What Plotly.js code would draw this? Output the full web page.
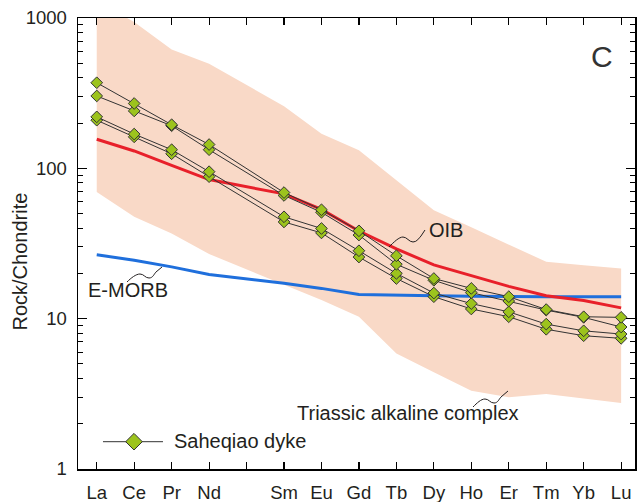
<!DOCTYPE html>
<html>
<head>
<meta charset="utf-8">
<script src="https://cdn.plot.ly/plotly-3.0.1.min.js"></script>
<style>html,body{margin:0;padding:0;background:#fff;}#chart{width:640px;height:502px;}</style>
</head>
<body>
<div id="chart"></div>
<script>
// ---- data (chondrite-normalised REE) ----
const elements   = ['La','Ce','Pr','Nd','Pm','Sm','Eu','Gd','Tb','Dy','Ho','Er','Tm','Yb','Lu'];
const tickLabels = ['La','Ce','Pr','Nd','',  'Sm','Eu','Gd','Tb','Dy','Ho','Er','Tm','Yb','Lu'];

const sample1 = [371,270,195,144,null,69,53,38.4,26.2,18.5,15.9,14.0,11.5,10.3,10.2];
const sample2 = [303,241,192,133,null,66,51,36.0,23.0,18.0,14.9,13.1,11.4,10.2,8.8];
const sample3 = [220,169,133,95,null,47.6,39.8,28.3,20.0,14.8,12.6,11.1,9.2,8.3,7.9];
const sample4 = [209,162,125,88,null,44,37.2,25.7,18.5,14.0,11.6,10.3,8.5,7.7,7.4];

const oib   = [156,130.5,104.5,84.2,null,67.6,53.3,38.3,29.1,22.8,19.4,16.4,14.2,13.2,11.8];
const emorb = [26.6,24.5,22.1,19.7,null,17.2,15.9,14.5,14.3,14.2,14.1,14.0,14.0,14.0,14.0];

const bandUpper = [1300,940,617,497,null,259,170,132,83,52.6,40.5,31.1,23.9,22.7,21.6];
const bandLower = [69.7,47.6,36.8,26.9,null,16.8,13.3,10.3,5.87,4.4,3.31,3.0,3.15,2.93,2.75];

const sampleName = 'Saheqiao dyke';
const bandName = 'Triassic alkaline complex';

// ---- helpers ----
const xIdx = elements.map((e,i)=>i);
function keep(arr){ // drop null positions (Pm) for band polygon
  const xs=[], ys=[];
  arr.forEach((v,i)=>{ if(v!==null){ xs.push(i); ys.push(v);} });
  return {xs, ys};
}
const up = keep(bandUpper), lo = keep(bandLower);
const bandX = up.xs.concat(lo.xs.slice().reverse());
const bandY = up.ys.concat(lo.ys.slice().reverse());

const M = {l:78, r:5, t:18, b:33};
const W = 640, H = 502;
const PL = M.l, PR = W - M.r, PT = M.t, PB = H - M.b;
const px = x => ((x - PL) / (PR - PL)).toFixed(5);
const py = y => ((PB - y) / (PB - PT)).toFixed(5);
function path(cmds){ // cmds in pixels, converted to paper units
  return cmds.map(c => c[0] + c.slice(1).map((v,i)=> i%2===0 ? px(v) : py(v)).join(',')).join(' ');
}

const ink = '#231f20';
const green = '#9cc31d';

const sampleStyle = {
  mode:'lines+markers', connectgaps:true, showlegend:false, hoverinfo:'skip',
  line:{color:'#333333', width:1},
  marker:{symbol:'diamond', size:9, color:green, line:{color:'#333333', width:1}}
};

const traces = [
  {x:bandX, y:bandY, mode:'lines', fill:'toself', fillcolor:'#f9d9c7',
   line:{width:0, color:'rgba(0,0,0,0)'}, showlegend:false, hoverinfo:'skip'},
  {x:xIdx, y:emorb, mode:'lines', connectgaps:true, line:{color:'#1f6fdc', width:3}, showlegend:false},
  {x:xIdx, y:oib, mode:'lines', connectgaps:true, line:{color:'#e8202a', width:3}, showlegend:false},
  Object.assign({x:xIdx, y:sample4}, sampleStyle),
  Object.assign({x:xIdx, y:sample3}, sampleStyle),
  Object.assign({x:xIdx, y:sample2}, sampleStyle),
  Object.assign({x:xIdx, y:sample1}, sampleStyle)
];

const leaderStyle = {type:'path', xref:'paper', yref:'paper', line:{color:ink, width:1}};
const shapes = [
  Object.assign({path: path([['M',389,247],['C',394,242,399,237,403,237],['C',407,237,409,242,413,242],['C',417,242,419,238,421,236],['L',425,230]])}, leaderStyle),
  Object.assign({path: path([['M',127,282],['C',131,278,136,274,140,274],['C',144,274,145,278,149,278],['C',153,278,154,274,156,272],['L',162,267]])}, leaderStyle),
  Object.assign({path: path([['M',473,407],['C',477,403,481,399,485,399],['C',489,399,490,403,494,403],['C',498,403,499,399,501,397],['L',508,391]])}, leaderStyle),
  // legend glyph
  {type:'line', xref:'paper', yref:'paper', x0:px(103), x1:px(163), y0:py(441.7), y1:py(441.7), line:{color:'#333333', width:1}},
  {type:'path', xref:'paper', yref:'paper', path: path([['M',134,433.4],['L',142.3,441.7],['L',134,450],['L',125.7,441.7],['Z']]),
   fillcolor:green, line:{color:'#333333', width:1}}
];

const annFont = {family:'Liberation Sans, Arial, sans-serif', size:20, color:ink};
const annotations = [
  {xref:'paper', yref:'paper', x:px(446), y:py(230), text:'OIB', showarrow:false, xanchor:'center', yanchor:'middle', font:annFont},
  {xref:'paper', yref:'paper', x:px(127.5), y:py(290), text:'E-MORB', showarrow:false, xanchor:'center', yanchor:'middle', font:annFont},
  {xref:'paper', yref:'paper', x:px(408), y:py(413), text:bandName, showarrow:false, xanchor:'center', yanchor:'middle', font:annFont},
  {xref:'paper', yref:'paper', x:px(172), y:py(441), text:sampleName, showarrow:false, xanchor:'left', yanchor:'middle', font:annFont},
  {xref:'paper', yref:'paper', x:px(601.7), y:py(56), text:'C', showarrow:false, xanchor:'center', yanchor:'middle',
   font:{family:'Liberation Sans, Arial, sans-serif', size:30, color:'#333333'}},
  {xref:'paper', yref:'paper', x:px(20), y:py(261.5), text:'Rock/Chondrite', showarrow:false, textangle:-90,
   xanchor:'center', yanchor:'middle', font:{family:'Liberation Sans, Arial, sans-serif', size:20, color:ink}}
];

const layout = {
  width:W, height:H, margin:M,
  paper_bgcolor:'#ffffff', plot_bgcolor:'#ffffff',
  font:{family:'Liberation Sans, Arial, sans-serif', color:ink, size:18.5},
  showlegend:false,
  xaxis:{
    range:[-0.5, 14.37], tickmode:'array', tickvals:xIdx, ticktext:tickLabels,
    showgrid:false, zeroline:false, showline:true, linecolor:'#000', linewidth:1.5, mirror:'allticks',
    ticks:'inside', ticklen:7, tickwidth:1.2, tickcolor:'#000',
    tickfont:{size:18.5, color:ink}, ticklabelstandoff:6
  },
  yaxis:{
    type:'log', range:[0,3], tickmode:'array', tickvals:[1,10,100,1000], ticktext:['1','10','100','1000'],
    showgrid:false, zeroline:false, showline:true, linecolor:'#000', linewidth:1.5, mirror:'allticks',
    ticks:'inside', ticklen:9, tickwidth:1.2, tickcolor:'#000',
    minor:{ticks:'inside', ticklen:5, tickwidth:1, tickcolor:'#000', dtick:'D1', showgrid:false},
    tickfont:{size:18.5, color:ink}, ticklabelstandoff:6
  },
  shapes:shapes, annotations:annotations
};

Plotly.newPlot('chart', traces, layout, {staticPlot:true, displayModeBar:false});
</script>
</body>
</html>
